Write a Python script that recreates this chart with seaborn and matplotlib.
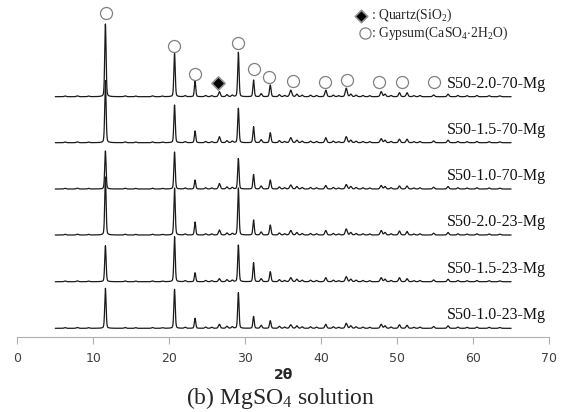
import numpy as np
import pandas as pd
import matplotlib
matplotlib.use("Agg")
import matplotlib.pyplot as plt
import seaborn as sns

# sample names (top to bottom)
samples = ["S50-2.0-70-Mg", "S50-1.5-70-Mg", "S50-1.0-70-Mg",
           "S50-2.0-23-Mg", "S50-1.5-23-Mg", "S50-1.0-23-Mg"]
# vertical offset of each pattern (a.u.)
offsets = [240.3, 194.3, 148.0, 102.0, 55.3, 8.7]

# main reflections (2theta, deg) and peak intensity per sample (a.u.)
peak_2theta = [11.6, 20.7, 23.4, 26.6, 29.1, 31.1, 33.3, 36.0, 40.6, 43.3, 47.9, 50.3, 51.3]
peak_width = [0.09, 0.09, 0.09, 0.12, 0.09, 0.09, 0.10, 0.14, 0.12, 0.13, 0.13, 0.12, 0.12]
peak_height = {
    "S50-2.0-70-Mg": [72.7, 43.4, 15.7, 5.0, 44.4, 16.7, 11.7, 6.5, 6.5, 8.5, 5.0, 4.0, 4.0],
    "S50-1.5-70-Mg": [62.0, 37.7, 11.7, 6.0, 34.5, 16.0, 10.0, 5.0, 5.0, 6.0, 4.0, 3.5, 3.5],
    "S50-1.0-70-Mg": [38.0, 37.0, 9.0, 5.5, 30.5, 14.5, 9.0, 4.0, 3.5, 4.5, 3.5, 3.0, 3.0],
    "S50-2.0-23-Mg": [58.0, 47.0, 13.0, 5.0, 47.0, 15.0, 10.0, 4.5, 4.5, 6.0, 4.5, 4.0, 3.5],
    "S50-1.5-23-Mg": [36.0, 45.0, 9.0, 3.0, 36.7, 19.0, 10.0, 4.0, 4.0, 5.0, 4.0, 4.0, 3.0],
    "S50-1.0-23-Mg": [40.0, 39.0, 10.0, 4.0, 35.6, 12.0, 7.6, 3.5, 4.0, 5.0, 4.0, 3.5, 3.0],
}
# weak reflections seen in all patterns
minor_2theta = [6.3, 7.9, 9.4, 14.2, 15.6, 17.8, 19.1, 22.1, 24.8, 25.6, 27.6, 28.3, 32.1,
                34.5, 35.2, 36.8, 37.5, 38.6, 39.4, 41.6, 42.3, 43.9, 44.6, 45.5, 46.4,
                48.4, 49.2, 52.2, 53.0, 54.8, 56.7, 58.0, 59.2, 60.5, 62.1, 63.5]
minor_height = [0.7, 0.8, 0.6, 0.8, 0.6, 0.8, 0.6, 1.0, 1.2, 1.0, 2.0, 1.5, 3.0,
                2.0, 1.2, 2.5, 1.5, 1.5, 1.2, 1.5, 1.0, 2.5, 1.5, 1.2, 1.0,
                2.5, 1.2, 1.0, 1.2, 1.8, 2.5, 1.2, 1.0, 1.2, 1.0, 0.8]

# phase markers above the top pattern
gypsum_2theta = [11.67, 20.62, 23.38, 29.08, 31.14, 33.16, 36.24, 40.49, 43.34, 47.63, 50.66, 54.8]
gypsum_y = [323.7, 291.0, 263.0, 294.3, 267.7, 259.7, 256.0, 255.3, 257.0, 255.3, 255.3, 255.3]
quartz_2theta = [26.45]
quartz_y = [253.7]

x_ticks = [0, 10, 20, 30, 40, 50, 60, 70]

# build patterns from the peak lists (pseudo-Voigt profiles)
tt = np.linspace(5, 65, 3001)


def profile(p, w):
    g = np.exp(-0.5 * ((tt - p) / w) ** 2)
    lor = 1.0 / (1.0 + ((tt - p) / (1.2 * w)) ** 2)
    return 0.75 * g + 0.25 * lor


rows = []
for name, off in zip(samples, offsets):
    y = np.full_like(tt, off)
    for p, w, h in zip(peak_2theta, peak_width, peak_height[name]):
        y += h * profile(p, w)
    for p, h in zip(minor_2theta, minor_height):
        y += h * profile(p, 0.12)
    rows.append(pd.DataFrame({"2theta": tt, "I": y, "sample": name}))
df = pd.concat(rows, ignore_index=True)

sns.set_style("white")
plt.rcParams["mathtext.fontset"] = "custom"
plt.rcParams["mathtext.rm"] = "Liberation Serif"
plt.rcParams["mathtext.it"] = "Liberation Serif:italic"

fig = plt.figure(figsize=(5.61, 4.12), dpi=100)
ax = fig.add_axes([0.0308, 0.182, 0.948, 0.818])

sns.lineplot(data=df, x="2theta", y="I", units="sample", estimator=None, sort=False,
             color="#1a1a1a", linewidth=0.9, legend=False, ax=ax)

# markers
ax.scatter(gypsum_2theta, gypsum_y, s=75, marker="o", facecolor="white",
           edgecolor="#808080", linewidth=0.9, zorder=3)
ax.scatter(quartz_2theta, quartz_y, s=45, marker="D", facecolor="black",
           edgecolor="#909090", linewidth=1.2, zorder=3)

# sample labels
for name, off in zip(samples, offsets):
    ax.text(56.5, off + 5, name, fontsize=11.5, family="Liberation Serif",
            ha="left", va="bottom", color="#111111")

# phase legend
ax.scatter([45.3], [321.5], s=40, marker="D", facecolor="black",
           edgecolor="#909090", linewidth=1.2, zorder=3, clip_on=False)
ax.text(46.6, 321.5, ": Quartz(SiO$_2$)", fontsize=9.8, family="Liberation Serif",
        ha="left", va="center")
ax.scatter([45.8], [304], s=65, marker="o", facecolor="white",
           edgecolor="#808080", linewidth=0.9, zorder=3, clip_on=False)
ax.text(46.6, 304, ": Gypsum(CaSO$_4$$\\cdot$2H$_2$O)", fontsize=9.8,
        family="Liberation Serif", ha="left", va="center")

ax.set_xlim(0, 70)
ax.set_ylim(0, 337)
ax.set_xticks(x_ticks)
ax.set_yticks([])
for s in ["top", "right", "left"]:
    ax.spines[s].set_visible(False)
ax.spines["bottom"].set_color("#b0b0b0")
ax.spines["bottom"].set_linewidth(0.8)
ax.tick_params(axis="x", direction="out", length=5, width=0.8, color="#b0b0b0",
               labelsize=9, labelcolor="#404040", pad=6, bottom=True)
ax.set_xlabel("2θ", fontsize=10, fontweight="bold", labelpad=2)
ax.set_ylabel("")

fig.text(0.5, 0.034, "(b) MgSO$_4$ solution", fontsize=17, family="Liberation Serif",
         ha="center", va="center")

fig.savefig("out.png", dpi=100)
